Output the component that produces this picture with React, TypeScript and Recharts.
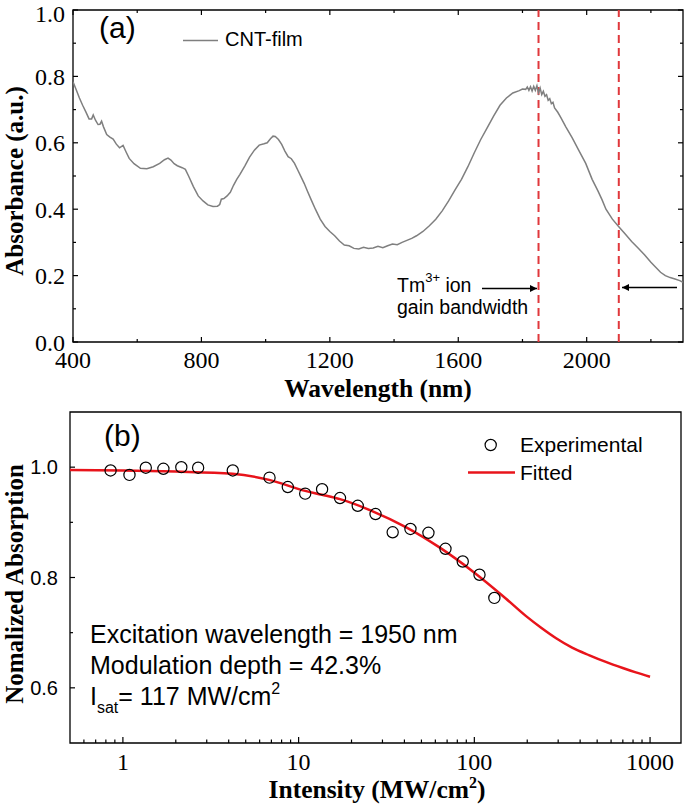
import React from 'react'
import { LineChart, ComposedChart, Line, Scatter, XAxis, YAxis, ReferenceLine, ReferenceArea } from 'recharts'

// (a) absorption spectrum of the CNT film
const wavelength = [
  400, 410, 420, 430, 440, 450, 458, 463, 470, 478, 484, 489, 495, 505, 515, 525, 535, 545, 556, 565,
  575, 590, 610, 630, 650, 670, 685, 696, 705, 715, 725, 740, 750, 760, 775, 790, 805, 820, 836, 850,
  857, 862, 870, 880, 890, 900, 910, 920, 935, 950, 965, 980, 995, 1005, 1015, 1023, 1030, 1040, 1050, 1060,
  1070, 1080, 1090, 1100, 1110, 1120, 1130, 1142, 1155, 1170, 1185, 1200, 1215, 1230, 1245, 1260, 1275, 1290, 1305, 1320,
  1335, 1350, 1365, 1380, 1395, 1410, 1425, 1440, 1455, 1470, 1490, 1510, 1530, 1550, 1570, 1590, 1610, 1630, 1650, 1670,
  1690, 1710, 1730, 1750, 1770, 1790, 1800, 1810, 1815, 1820, 1825, 1830, 1835, 1840, 1845, 1850, 1855, 1860, 1865, 1870,
  1875, 1880, 1885, 1890, 1895, 1900, 1910, 1920, 1935, 1955, 1975, 1997, 2017, 2035, 2048, 2060, 2080, 2100, 2120, 2140,
  2160, 2180, 2200, 2215, 2230, 2245, 2260, 2275, 2290, 2300,
]
const absorbance = [
  0.784, 0.76, 0.735, 0.713, 0.693, 0.672, 0.672, 0.684, 0.668, 0.655, 0.656, 0.665, 0.648, 0.625, 0.617, 0.611, 0.596, 0.585, 0.592, 0.573,
  0.553, 0.537, 0.523, 0.522, 0.528, 0.538, 0.549, 0.554, 0.548, 0.537, 0.531, 0.525, 0.52, 0.5, 0.468, 0.44, 0.425, 0.413, 0.408, 0.409,
  0.414, 0.43, 0.432, 0.44, 0.451, 0.472, 0.49, 0.505, 0.53, 0.557, 0.578, 0.593, 0.597, 0.6, 0.612, 0.62, 0.619, 0.61, 0.595, 0.575,
  0.558, 0.552, 0.538, 0.518, 0.498, 0.478, 0.455, 0.428, 0.4, 0.37, 0.348, 0.333, 0.32, 0.304, 0.292, 0.29, 0.282, 0.28, 0.285, 0.282,
  0.283, 0.288, 0.284, 0.29, 0.295, 0.293, 0.3, 0.306, 0.312, 0.32, 0.333, 0.35, 0.37, 0.395, 0.425, 0.458, 0.49, 0.528, 0.57, 0.61,
  0.645, 0.68, 0.713, 0.735, 0.75, 0.757, 0.762, 0.761, 0.768, 0.758, 0.769, 0.756, 0.77, 0.758, 0.772, 0.75, 0.765, 0.745, 0.755, 0.74,
  0.745, 0.728, 0.733, 0.718, 0.722, 0.705, 0.692, 0.675, 0.648, 0.615, 0.578, 0.538, 0.49, 0.455, 0.428, 0.4, 0.37, 0.347, 0.325, 0.303,
  0.283, 0.263, 0.24, 0.225, 0.21, 0.2, 0.194, 0.19, 0.185, 0.18,
]
const gainEdges = [1850, 2100]
const wlTicks = [400, 600, 800, 1000, 1200, 1400, 1600, 1800, 2000, 2200]
const wlLabels = [400, 800, 1200, 1600, 2000]
const absTicks = [0, 0.1, 0.2, 0.3, 0.4, 0.5, 0.6, 0.7, 0.8, 0.9, 1.0]
const absLabels = [0, 0.2, 0.4, 0.6, 0.8, 1.0]

// (b) saturable absorption
const intensity = [0.851, 1.09, 1.35, 1.7, 2.15, 2.68, 4.22, 6.83, 8.68, 10.9, 13.6, 17.2, 21.7, 27.4, 34.3, 43.3, 54.8, 68.5, 85.9, 107, 130]
const normAbs = [0.994, 0.986, 0.999, 0.997, 1.0, 0.999, 0.994, 0.981, 0.964, 0.952, 0.96, 0.944, 0.93, 0.915, 0.882, 0.888, 0.881, 0.852, 0.829, 0.805, 0.763]
const fitIntensity = [0.5, 1, 2, 4.2, 6.8, 10.9, 13.6, 17.2, 26.4, 41, 63, 98, 151, 197, 240, 292, 360, 452, 560, 699, 830, 1000]
const fitAbs = [0.995, 0.994, 0.992, 0.988, 0.977, 0.957, 0.95, 0.942, 0.92, 0.891, 0.855, 0.811, 0.762, 0.73, 0.709, 0.69, 0.673, 0.659, 0.647, 0.636, 0.628, 0.62]
const intTicks = [0.6, 0.7, 0.8, 0.9, 1, 2, 3, 4, 5, 6, 7, 8, 9, 10, 20, 30, 40, 50, 60, 70, 80, 90, 100, 200, 300, 400, 500, 600, 700, 800, 900, 1000]
const intLabels = [1, 10, 100, 1000]
const naTicks = [0.6, 0.7, 0.8, 0.9, 1.0]
const naLabels = [0.6, 0.8, 1.0]

const serif = '"Liberation Serif", "Times New Roman", serif'
const sans = '"Liberation Sans", Arial, sans-serif'
const PW1 = 610
const PH1 = 332

const WlTick = (p: any) => {
  const v = p.payload.value
  const major = wlLabels.includes(v)
  const len = major ? 5 : 3
  return (
    <g>
      <line x1={p.x} x2={p.x} y1={p.y} y2={p.y - len} stroke="#000" strokeWidth={1.2} />
      <line x1={p.x} x2={p.x} y1={p.y - PH1} y2={p.y - PH1 + len} stroke="#000" strokeWidth={1.2} />
      {major && <text x={p.x} y={p.y + 26} textAnchor="middle" fontFamily={serif} fontSize={24} fill="#000">{v}</text>}
    </g>
  )
}

const AbsTick = (p: any) => {
  const v = p.payload.value
  const major = absLabels.includes(v)
  const len = major ? 5 : 3
  // keep the top label's text box inside the picture
  const base = Math.max(p.y + 8.5, 22)
  return (
    <g>
      <line x1={p.x} x2={p.x + len} y1={p.y} y2={p.y} stroke="#000" strokeWidth={1.2} />
      <line x1={p.x + PW1} x2={p.x + PW1 - len} y1={p.y} y2={p.y} stroke="#000" strokeWidth={1.2} />
      {major && <text x={p.x - 8} y={base} textAnchor="end" fontFamily={serif} fontSize={24} fill="#000">{v.toFixed(1)}</text>}
    </g>
  )
}

const IntTick = (p: any) => {
  const v = p.payload.value
  const major = intLabels.includes(v)
  const len = major ? 6 : 3.5
  return (
    <g>
      <line x1={p.x} x2={p.x} y1={p.y} y2={p.y - len} stroke="#000" strokeWidth={1.2} />
      {major && <text x={p.x} y={p.y + 27} textAnchor="middle" fontFamily={serif} fontSize={24} fill="#000">{v}</text>}
    </g>
  )
}

const NaTick = (p: any) => {
  const v = p.payload.value
  const major = naLabels.includes(v)
  const len = major ? 5 : 3
  return (
    <g>
      <line x1={p.x} x2={p.x + len} y1={p.y} y2={p.y} stroke="#000" strokeWidth={1.2} />
      {major && <text x={p.x - 12} y={p.y} dy="0.35em" textAnchor="end" fontFamily={sans} fontSize={20} fill="#000">{v.toFixed(1)}</text>}
    </g>
  )
}

const Ring = (p: any) => <circle cx={p.cx} cy={p.cy} r={5.6} fill="none" stroke="#000" strokeWidth={1.2} />

export default function App() {
  const specData = wavelength.map((w, i) => ({ wl: w, a: absorbance[i] }))
  const expData = intensity.map((x, i) => ({ i: x, v: normAbs[i] }))
  const fitData = fitIntensity.map((x, i) => ({ i: x, v: fitAbs[i] }))

  return (
    <div style={{ position: 'absolute', left: 0, top: 0, width: 685, height: 805, background: '#fff' }}>
      <div style={{ position: 'absolute', left: 0, top: 0 }}>
        <LineChart width={685} height={390} data={specData} margin={{ top: 10, right: 2, bottom: 0, left: 0 }}>
          <XAxis dataKey="wl" type="number" domain={[400, 2300]} ticks={wlTicks} interval={0} height={48}
            tickSize={0} tickMargin={0} axisLine={false} tickLine={false} tick={(p: any) => <WlTick {...p} />} allowDataOverflow />
          <YAxis type="number" domain={[0, 1]} ticks={absTicks} interval={0} width={73}
            tickSize={0} tickMargin={0} axisLine={false} tickLine={false} tick={(p: any) => <AbsTick {...p} />} allowDataOverflow />
          <ReferenceArea x1={400} x2={2300} y1={0} y2={1} fill="none" stroke="#000" strokeWidth={1.3} ifOverflow="visible" />
          {gainEdges.map((g) => (
            <ReferenceLine key={g} x={g} stroke="#e0383c" strokeWidth={2} strokeDasharray="8 5" />
          ))}
          <Line dataKey="a" type="linear" stroke="#7f7f7f" strokeWidth={1.5} dot={false} isAnimationActive={false} />
        </LineChart>
      </div>
      <div style={{ position: 'absolute', left: 0, top: 390 }}>
        <ComposedChart width={685} height={415} margin={{ top: 22, right: 4, bottom: 0, left: 0 }}>
          <XAxis dataKey="i" type="number" scale="log" domain={[0.5, 1500]} ticks={intTicks} interval={0} height={62}
            tickSize={0} tickMargin={0} axisLine={false} tickLine={false} tick={(p: any) => <IntTick {...p} />} allowDataOverflow />
          <YAxis dataKey="v" type="number" domain={[0.5, 1.1]} ticks={naTicks} interval={0} width={70}
            tickSize={0} tickMargin={0} axisLine={false} tickLine={false} tick={(p: any) => <NaTick {...p} />} allowDataOverflow />
          <ReferenceArea x1={0.5} x2={1500} y1={0.5} y2={1.1} fill="none" stroke="#000" strokeWidth={1.3} ifOverflow="visible" />
          <Line data={fitData} dataKey="v" type="monotone" stroke="#e8141b" strokeWidth={2.5} dot={false} isAnimationActive={false} />
          <Scatter data={expData} dataKey="v" shape={Ring} isAnimationActive={false} />
        </ComposedChart>
      </div>
      <svg width={685} height={805} style={{ position: 'absolute', left: 0, top: 0, pointerEvents: 'none' }}>
        <defs>
          <marker id="ah" viewBox="0 0 10 10" refX="10" refY="5" markerWidth="9" markerHeight="7" orient="auto" markerUnits="userSpaceOnUse">
            <path d="M0,0 L10,5 L0,10 z" fill="#000" />
          </marker>
        </defs>
        {/* panel (a) */}
        <text x={99} y={38} fontFamily={sans} fontSize={30} fill="#000">(a)</text>
        <line x1={183} x2={218} y1={40.5} y2={40.5} stroke="#7f7f7f" strokeWidth={1.5} />
        <text x={225} y={45.5} fontFamily={sans} fontSize={20} fill="#000">CNT-film</text>
        <text x={397} y={291.5} fontFamily={sans} fontSize={19.5} fill="#000">
          Tm<tspan dy={-10} fontSize={13}>3+</tspan><tspan dy={10}> ion</tspan>
        </text>
        <text x={397} y={313.5} fontFamily={sans} fontSize={19.5} fill="#000">gain bandwidth</text>
        <line x1={482} x2={537} y1={288.5} y2={288.5} stroke="#000" strokeWidth={1.5} markerEnd="url(#ah)" />
        <line x1={677} x2={622} y1={287.5} y2={287.5} stroke="#000" strokeWidth={1.5} markerEnd="url(#ah)" />
        <text x={378} y={397} textAnchor="middle" fontFamily={serif} fontWeight="bold" fontSize={25.5} fill="#000">Wavelength (nm)</text>
        <text transform="translate(23,181) rotate(-90)" textAnchor="middle" fontFamily={serif} fontWeight="bold" fontSize={25} fill="#000">Absorbance (a.u.)</text>
        {/* panel (b) */}
        <text x={104} y={446} fontFamily={sans} fontSize={30} fill="#000">(b)</text>
        <circle cx={490.7} cy={445} r={5.6} fill="none" stroke="#000" strokeWidth={1.2} />
        <text x={520} y={451.5} fontFamily={sans} fontSize={21} fill="#000">Experimental</text>
        <line x1={468} x2={515} y1={472.5} y2={472.5} stroke="#e8141b" strokeWidth={2.5} />
        <text x={520} y={479.5} fontFamily={sans} fontSize={21} fill="#000">Fitted</text>
        <text x={90} y={643} fontFamily={sans} fontSize={25} fill="#000">Excitation wavelength = 1950 nm</text>
        <text x={90} y={673.5} fontFamily={sans} fontSize={25} fill="#000">Modulation depth = 42.3%</text>
        <text x={90} y={705} fontFamily={sans} fontSize={25} fill="#000">
          I<tspan dy={8} fontSize={16}>sat</tspan><tspan dy={-8}>= 117 MW/cm</tspan><tspan dy={-11} fontSize={16}>2</tspan>
        </text>
        <text x={377} y={798} textAnchor="middle" fontFamily={serif} fontWeight="bold" fontSize={25.5} fill="#000">
          Intensity (MW/cm<tspan dy={-10} fontSize={16}>2</tspan><tspan dy={10}>)</tspan>
        </text>
        <text transform="translate(23,584) rotate(-90)" textAnchor="middle" fontFamily={serif} fontWeight="bold" fontSize={25} fill="#000">Nomalized Absorption</text>
      </svg>
    </div>
  )
}
